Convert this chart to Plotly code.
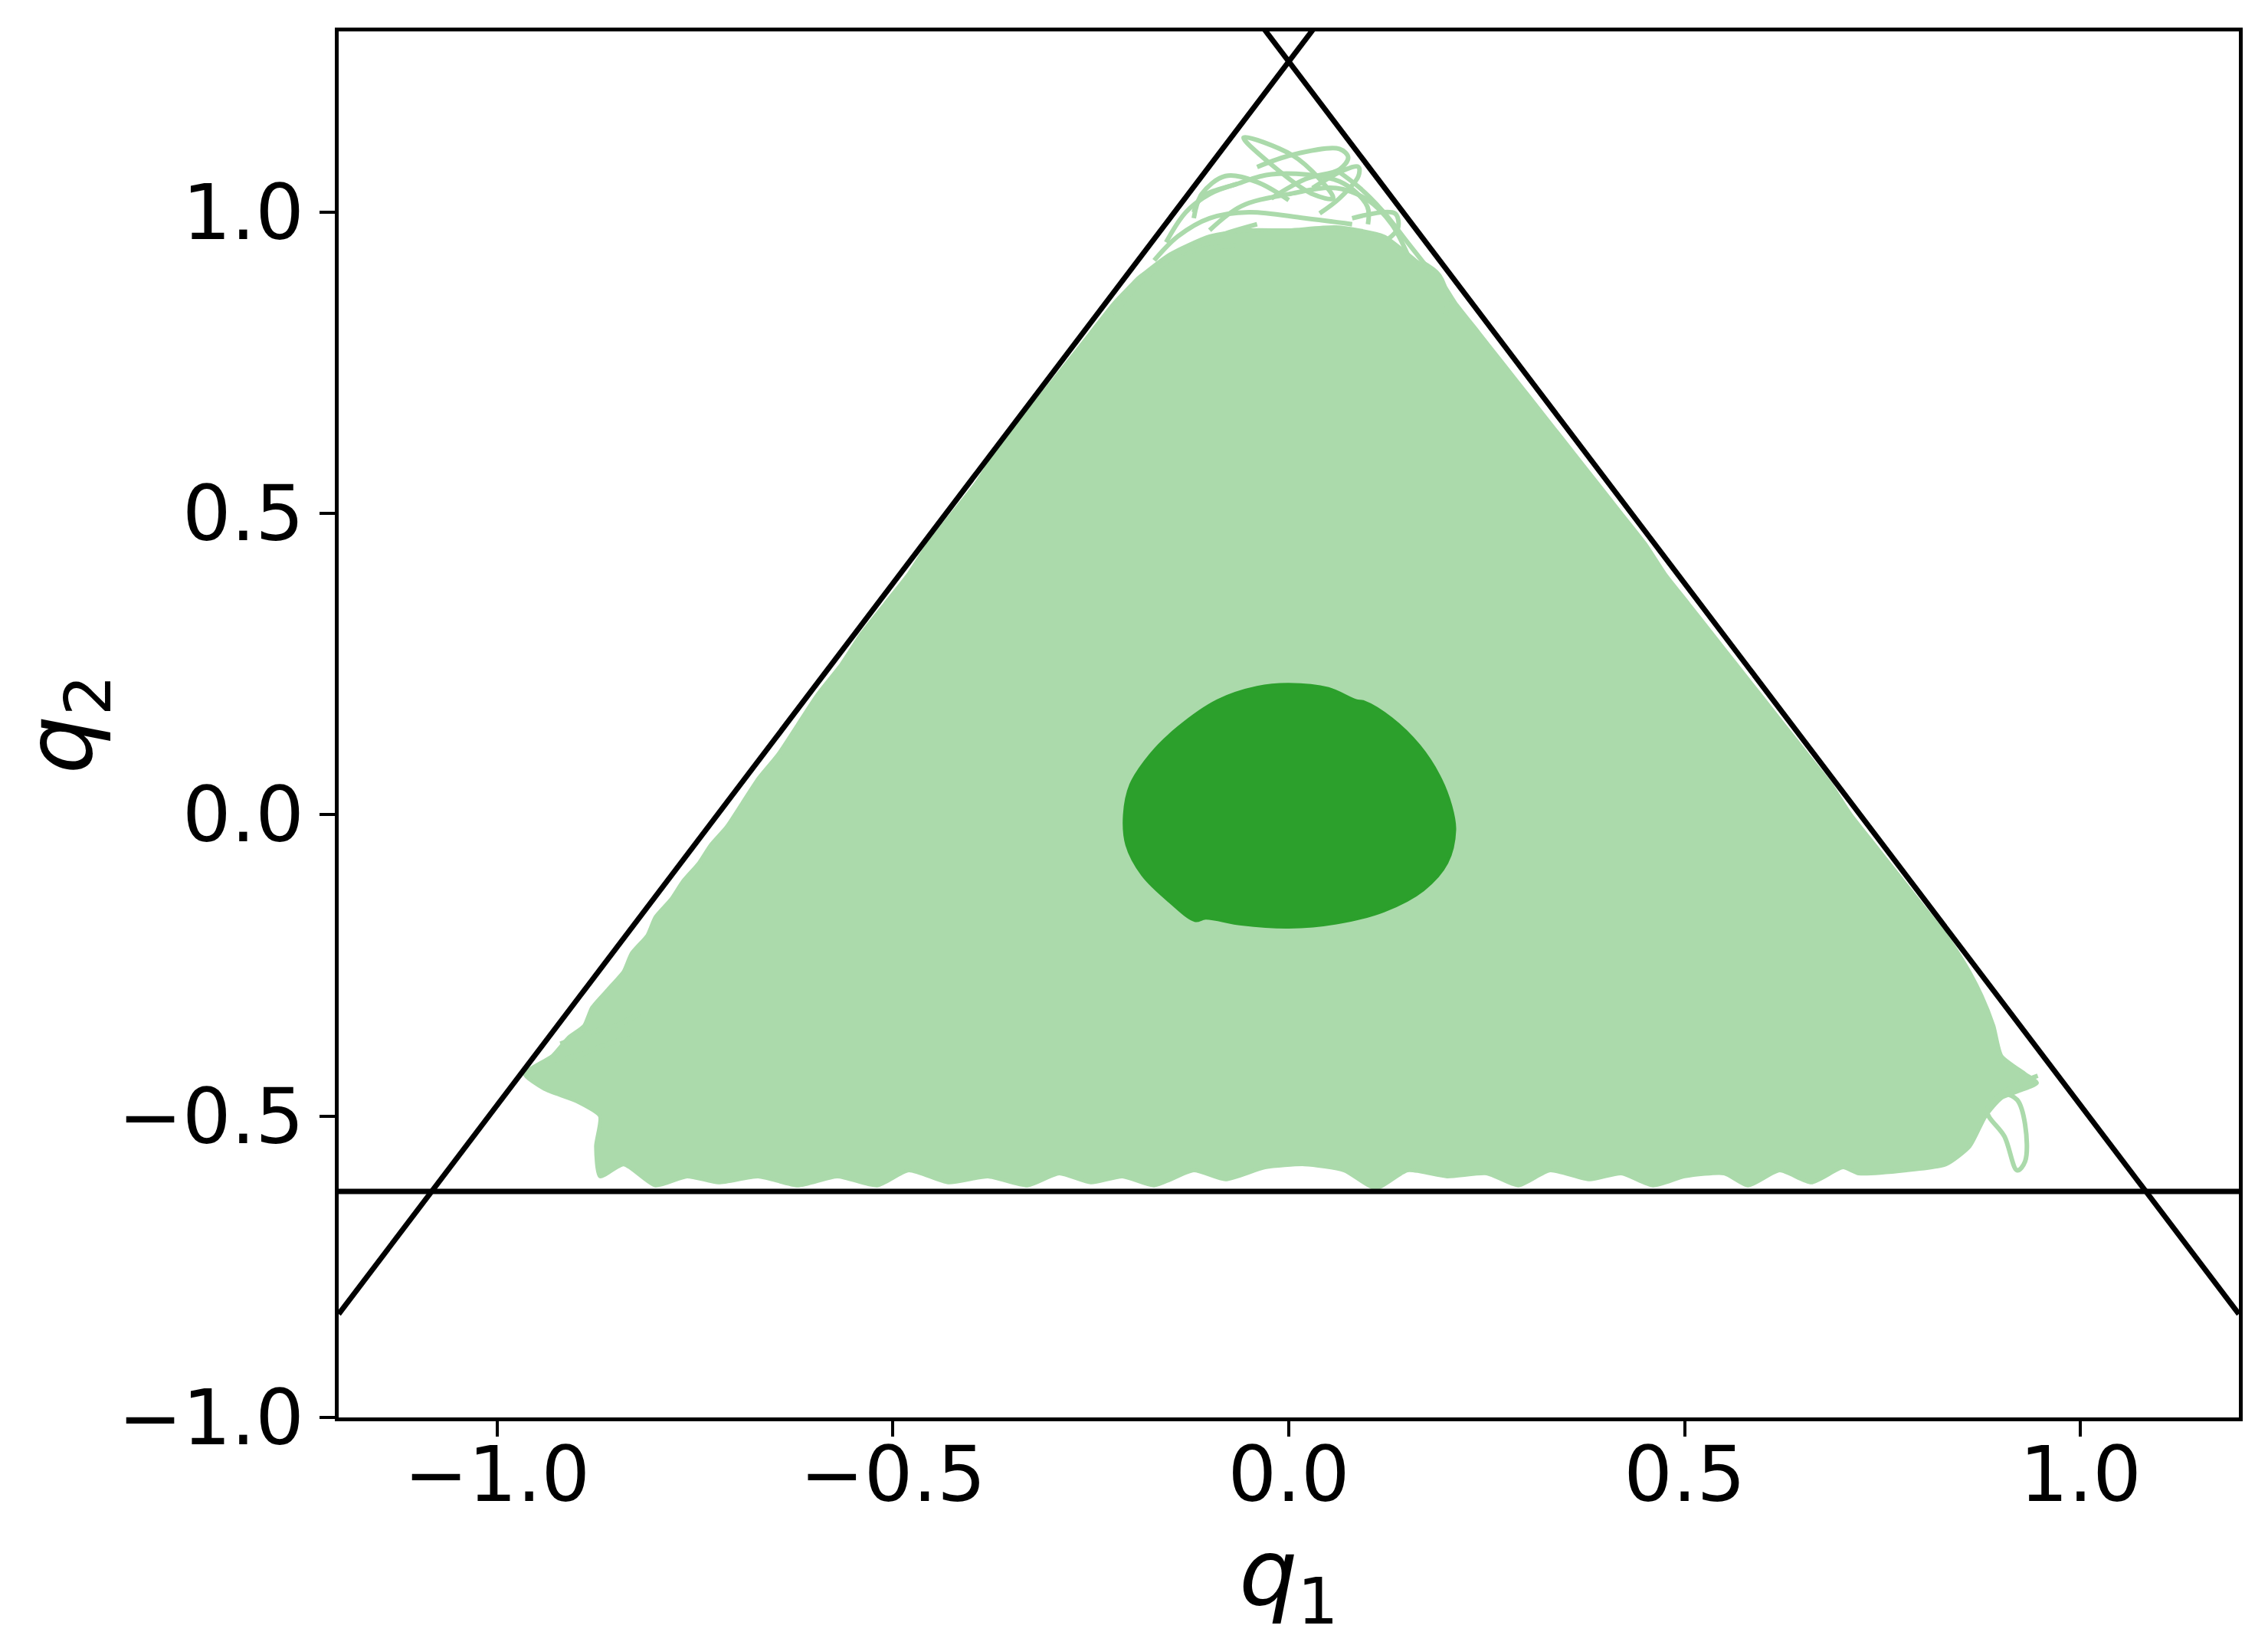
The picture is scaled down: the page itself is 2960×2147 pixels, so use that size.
# %%
import numpy as np
import plotly.graph_objects as go

# %%
# equipotential triangle: apex, base and side slope
apex_q2 = 1.25
base_q2 = -0.625
side_slope = np.sqrt(3)
line_q1 = [-1.2, 1.2]

# outline of the chaotic orbit (light green cloud)
cloud_q1 = [-0.965, -0.93, -0.91, -0.89, -0.88, -0.86, -0.84, -0.83, -0.81, -0.80,
            -0.78, -0.765, -0.745, -0.73, -0.71, -0.69, -0.67, -0.645, -0.62, -0.595,
            -0.565, -0.54, -0.51, -0.48, -0.455, -0.425, -0.395, -0.37, -0.34, -0.31,
            -0.28, -0.25, -0.22, -0.19, -0.15, -0.10, -0.05, 0.0, 0.06, 0.12,
            0.16, 0.19, 0.21, 0.24, 0.27, 0.30, 0.33, 0.36, 0.39,
            0.42, 0.45, 0.475, 0.505, 0.535, 0.565, 0.595, 0.625, 0.655, 0.685,
            0.71, 0.74, 0.77, 0.80, 0.83, 0.855, 0.875, 0.89, 0.90, 0.93,
            0.945, 0.90, 0.88, 0.86, 0.83, 0.78, 0.72, 0.70, 0.66, 0.62,
            0.58, 0.55, 0.50, 0.46, 0.42, 0.38, 0.33, 0.29, 0.25, 0.20,
            0.15, 0.11, 0.07, 0.02, -0.03, -0.08, -0.12, -0.17, -0.21, -0.25,
            -0.29, -0.33, -0.38, -0.43, -0.48, -0.52, -0.57, -0.62, -0.67, -0.72,
            -0.76, -0.80, -0.84, -0.87, -0.875, -0.87, -0.90, -0.94, -0.965]
cloud_q2 = [-0.43, -0.40, -0.37, -0.35, -0.32, -0.29, -0.26, -0.23, -0.20, -0.17,
            -0.14, -0.11, -0.08, -0.05, -0.02, 0.02, 0.06, 0.10, 0.15, 0.20,
            0.25, 0.30, 0.35, 0.40, 0.45, 0.50, 0.55, 0.60, 0.65, 0.70,
            0.75, 0.80, 0.85, 0.89, 0.93, 0.96, 0.97, 0.97, 0.975, 0.96,
            0.92, 0.89, 0.85, 0.80, 0.75, 0.70, 0.65, 0.60, 0.55,
            0.50, 0.45, 0.40, 0.35, 0.30, 0.25, 0.20, 0.15, 0.10, 0.05,
            0.0, -0.05, -0.10, -0.15, -0.20, -0.25, -0.30, -0.35, -0.40, -0.43,
            -0.445, -0.47, -0.50, -0.55, -0.58, -0.59, -0.595, -0.585, -0.61, -0.59,
            -0.615, -0.595, -0.60, -0.615, -0.595, -0.605, -0.59, -0.615, -0.595, -0.60,
            -0.59, -0.62, -0.59, -0.58, -0.585, -0.605, -0.59, -0.615, -0.60, -0.61,
            -0.595, -0.615, -0.60, -0.61, -0.59, -0.615, -0.60, -0.615, -0.60, -0.61,
            -0.60, -0.615, -0.58, -0.60, -0.55, -0.50, -0.475, -0.455, -0.43]

# loose loops of the orbit sticking out of the cloud
loops_q1 = [
    [-0.057, 0.004, 0.039, 0.056, 0.03, -0.022, -0.057],
    [-0.022, 0.021, 0.064, 0.075, 0.064, 0.004, -0.04],
    [0.039, 0.064, 0.088, 0.088, 0.07, 0.03],
    [-0.12, -0.11, -0.065, -0.022, 0.064, 0.099, 0.10],
    [-0.155, -0.13, -0.10, -0.065],
    [0.08, 0.134, 0.138, 0.125],
    [-0.21, -0.19, -0.165, -0.131, -0.065],
    [0.168, 0.19, 0.20, 0.198],
    [-0.17, -0.14, -0.10, -0.05, 0.02, 0.08],
    [-0.10, -0.06, 0.0, 0.06, 0.10, 0.13, 0.15],
    [-0.12, -0.11, -0.08, -0.04, 0.0],
    [0.06, 0.09, 0.12, 0.15, 0.18],
    [-0.22, -0.19, -0.14, -0.09, -0.04],
    [0.946, 0.912, 0.882, 0.904, 0.92, 0.93, 0.93, 0.92, 0.90],
    [-0.94, -0.90, -0.86, -0.83],
    [-0.92, -0.88, -0.85, -0.82],
]
loops_q2 = [
    [1.124, 1.095, 1.055, 1.023, 1.03, 1.079, 1.124],
    [1.023, 1.055, 1.071, 1.091, 1.105, 1.095, 1.075],
    [0.998, 1.023, 1.06, 1.075, 1.07, 1.04],
    [1.00, 1.025, 1.047, 1.063, 1.051, 1.010, 0.98],
    [0.95, 1.0, 1.03, 1.047],
    [0.99, 0.998, 0.974, 0.955],
    [0.855, 0.89, 0.91, 0.933, 0.945],
    [0.917, 0.895, 0.855, 0.83],
    [0.92, 0.96, 0.99, 1.00, 0.99, 0.98],
    [0.97, 1.01, 1.03, 1.04, 1.02, 0.98, 0.93],
    [0.99, 1.03, 1.06, 1.05, 1.02],
    [1.07, 1.04, 1.00, 0.95, 0.90],
    [0.83, 0.88, 0.93, 0.96, 0.98],
    [-0.433, -0.453, -0.49, -0.534, -0.59, -0.575, -0.514, -0.473, -0.46],
    [-0.41, -0.40, -0.38, -0.37],
    [-0.38, -0.36, -0.35, -0.33],
]

# regular (quasi-periodic) orbit, dark green blob
blob_q1 = [0.0, 0.05, 0.085, 0.095, 0.13, 0.165, 0.19, 0.205, 0.21, 0.20,
           0.17, 0.12, 0.06, 0.0, -0.06, -0.105, -0.118, -0.15, -0.185, -0.205,
           -0.208, -0.20, -0.175, -0.14, -0.09, -0.04, 0.0]
blob_q2 = [0.217, 0.21, 0.19, 0.188, 0.16, 0.115, 0.065, 0.015, -0.025, -0.08,
           -0.125, -0.16, -0.18, -0.187, -0.182, -0.172, -0.176, -0.145, -0.10, -0.05,
           0.0, 0.05, 0.10, 0.145, 0.19, 0.212, 0.217]

tick_vals = [-1.0, -0.5, 0.0, 0.5, 1.0]
tick_text = ['\u22121.0', '\u22120.5', '0.0', '0.5', '1.0']

light = 'rgb(171,218,171)'
dark = '#2ca02c'

# %%
fig = go.Figure()

fig.add_trace(go.Scatter(x=cloud_q1, y=cloud_q2, mode='lines', fill='toself',
                         fillcolor=light,
                         line=dict(color=light, width=5, shape='spline', smoothing=0.6)))
for lx, ly in zip(loops_q1, loops_q2):
    fig.add_trace(go.Scatter(x=lx, y=ly, mode='lines',
                             line=dict(color=light, width=6, shape='spline')))

fig.add_trace(go.Scatter(x=blob_q1, y=blob_q2, mode='lines', fill='toself',
                         fillcolor=dark, line=dict(color=dark, width=3, shape='spline')))

xs = np.array(line_q1)
for ys in (apex_q2 + side_slope * xs, apex_q2 - side_slope * xs, [base_q2, base_q2]):
    fig.add_trace(go.Scatter(x=xs, y=ys, mode='lines', line=dict(color='black', width=7)))

axis_style = dict(showgrid=False, zeroline=False, showline=True, mirror=True,
                  linecolor='black', linewidth=5, ticks='outside', ticklen=20,
                  tickwidth=4, tickcolor='black', tickvals=tick_vals, ticktext=tick_text)

fig.update_xaxes(range=[-1.2, 1.2], ticklabelstandoff=-36,
                 title=dict(text='<i>q</i><sub>1</sub>', standoff=24), **axis_style)
fig.update_yaxes(range=[-1.0, 1.3],
                 title=dict(text='<i>q</i><sub>2</sub>', standoff=40), **axis_style)

fig.update_layout(width=2960, height=2147, showlegend=False,
                  margin=dict(l=434, r=46, t=33, b=305),
                  plot_bgcolor='white', paper_bgcolor='white',
                  font=dict(family='DejaVu Sans', size=100, color='black'))

fig.write_html("out.html")
